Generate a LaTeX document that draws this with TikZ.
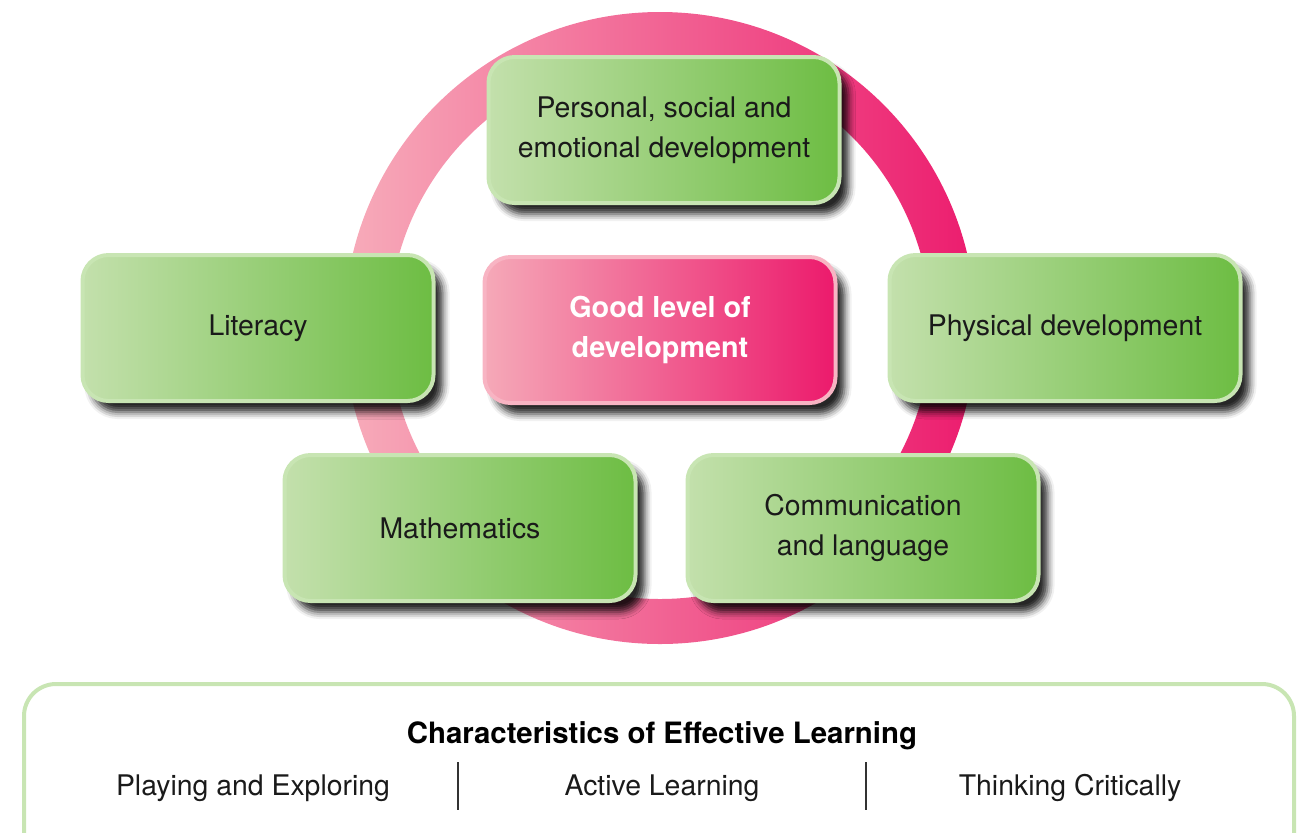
\documentclass[tikz,border=0pt]{standalone}
\usepackage{fontspec}
\setmainfont{TeX Gyre Heros}
\usetikzlibrary{shadows.blur}
\definecolor{gL}{HTML}{C3E0AC}
\definecolor{gR}{HTML}{6DBD43}
\definecolor{gB}{HTML}{C8E5B3}
\definecolor{pL}{HTML}{F5A9B8}
\definecolor{pR}{HTML}{EC1A6C}
\definecolor{pB}{HTML}{F8B4C3}
\definecolor{ringL}{HTML}{F7ACBA}
\definecolor{ringR}{HTML}{EC1C6E}
\definecolor{txt}{HTML}{1A1A1A}
\definecolor{sep}{HTML}{333333}
\tikzset{
  area/.style={rounded corners=13pt, minimum width=175.5pt, minimum height=73pt,
    line width=2pt, align=center, text=txt, font=\fontsize{14.2}{20}\selectfont,
    blur shadow={shadow xshift=4.5pt, shadow yshift=-5.5pt, shadow blur radius=3.5pt, shadow opacity=85}},
  greenbox/.style={area, draw=gB, left color=gL, right color=gR},
  pinkbox/.style={area, draw=pB, left color=pL, right color=pR, text=white,
    font=\bfseries\fontsize{14.4}{20}\selectfont},
  celtitle/.style={text=black, font=\bfseries\fontsize{14.7}{16}\selectfont},
  celitem/.style={text=txt, font=\fontsize{14.2}{16}\selectfont},
  sepline/.style={draw=sep, line width=0.6pt},
  frame/.style={draw=gB, line width=2pt, rounded corners=16pt}
}
\begin{document}
\begin{tikzpicture}[x=0.5pt,y=0.5pt]
\useasboundingbox (0,0) rectangle (1297,-832);
\clip (0,0) rectangle (1297,-832);
\coordinate (c) at (660,-328);
\path[left color=ringL, right color=ringR, even odd rule]
  (c) circle[radius=158pt] (c) circle[radius=135.5pt];
\node[greenbox] (pse) at (664,-130) {Personal, social and\\emotional development};
\node[greenbox] (lit) at (258,-328) {Literacy};
\node[pinkbox] (good) at (660,-330) {Good level of\\development};
\node[greenbox] (phys) at (1065,-328) {Physical development};
\node[greenbox] (math) at (460,-528) {Mathematics};
\node[greenbox] (comm) at (863,-528) {Communication\\and language};
\coordinate (fa) at (24,-684);
\coordinate (fb) at (1294,-900);
\draw[frame] (fa) rectangle (fb);
\node[celtitle] (cel) at (662,-736) {Characteristics of Effective Learning};
\node[celitem] (play) at (253,-788) {Playing and Exploring};
\node[celitem] (active) at (662,-788) {Active Learning};
\node[celitem] (think) at (1070,-788) {Thinking Critically};
\coordinate (s1t) at (458,-762);
\coordinate (s1b) at (458,-810);
\coordinate (s2t) at (866,-762);
\coordinate (s2b) at (866,-810);
\draw[sepline] (s1t) -- (s1b);
\draw[sepline] (s2t) -- (s2b);
\end{tikzpicture}
\end{document}
